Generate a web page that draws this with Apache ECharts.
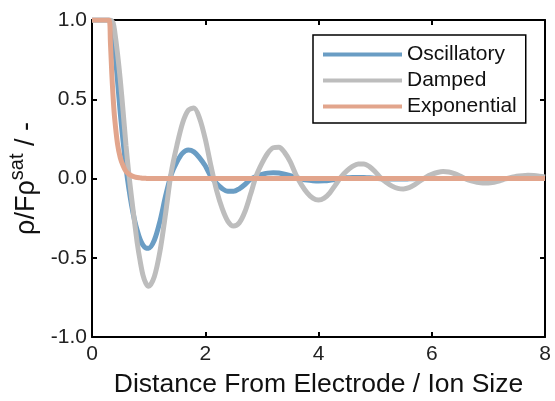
<!DOCTYPE html>
<html>
<head>
<meta charset="utf-8">
<script src="https://cdn.jsdelivr.net/npm/echarts@6/dist/echarts.min.js"></script>
<style>
html,body{margin:0;padding:0;background:#fff;}
#chart{width:555px;height:401px;}
</style>
</head>
<body>
<div id="chart"></div>
<script>
// Shared x positions (distance / ion size)
const xValues = [0, 0.1, 0.2, 0.3, 0.325, 0.35, 0.375, 0.4, 0.45, 0.5, 0.55, 0.6, 0.65, 0.7, 0.75, 0.8, 0.85, 0.9, 0.95, 1.0,
  1.1, 1.2, 1.3, 1.4, 1.5, 1.6, 1.7, 1.8, 1.9, 2.0,
  2.1, 2.2, 2.3, 2.4, 2.5, 2.6, 2.7, 2.8, 2.9, 3.0,
  3.1, 3.2, 3.3, 3.4, 3.5, 3.6, 3.7, 3.8, 3.9, 4.0,
  4.1, 4.2, 4.3, 4.4, 4.5, 4.6, 4.7, 4.8, 4.9, 5.0,
  5.1, 5.2, 5.3, 5.4, 5.5, 5.6, 5.7, 5.8, 5.9, 6.0,
  6.1, 6.2, 6.3, 6.4, 6.5, 6.6, 6.7, 6.8, 6.9, 7.0,
  7.1, 7.2, 7.3, 7.4, 7.5, 7.6, 7.7, 7.8, 7.9, 8.0];

const oscillatory = [1, 1, 1, 1, 0.99, 0.96, 0.9, 0.82, 0.62, 0.41, 0.23, 0.07, -0.06, -0.17, -0.26, -0.33, -0.385, -0.42, -0.438, -0.44,
  -0.39, -0.27, -0.11, 0.025, 0.105, 0.16, 0.18, 0.168, 0.13, 0.08,
  0.013, -0.032, -0.064, -0.081, -0.081, -0.065, -0.038, -0.004, 0.013, 0.026,
  0.034, 0.037, 0.035, 0.028, 0.018, 0.007, -0.003, -0.01, -0.014, -0.016,
  -0.015, -0.011, -0.005, 0.0, 0.004, 0.006, 0.007, 0.006, 0.004, 0.001,
  -0.001, -0.002, -0.003, -0.003, -0.003, -0.002, -0.001, 0, 0, 0,
  0, 0, 0, 0, 0, 0, 0, 0, 0, 0,
  0, 0, 0, 0, 0, 0, 0, 0, 0, 0];

const damped = [1, 1, 1, 1, 1.0, 0.995, 0.98, 0.93, 0.79, 0.62, 0.42, 0.21, 0.03, -0.125, -0.27, -0.41, -0.52, -0.61, -0.66, -0.68,
  -0.62, -0.46, -0.22, 0.04, 0.21, 0.35, 0.43, 0.445, 0.38, 0.25,
  0.08, -0.075, -0.19, -0.27, -0.30, -0.28, -0.21, -0.10, 0.016, 0.095,
  0.158, 0.194, 0.197, 0.165, 0.106, 0.025, -0.04, -0.09, -0.124, -0.136,
  -0.124, -0.09, -0.04, 0.011, 0.048, 0.076, 0.092, 0.092, 0.075, 0.043,
  0.004, -0.025, -0.048, -0.062, -0.066, -0.058, -0.039, -0.014, 0.009, 0.026,
  0.038, 0.044, 0.041, 0.031, 0.015, -0.003, -0.015, -0.024, -0.029, -0.029,
  -0.024, -0.015, -0.003, 0.006, 0.014, 0.018, 0.02, 0.019, 0.015, 0.009];

const exponential = [1, 1, 1, 1, 0.86, 0.66, 0.5, 0.38, 0.22, 0.13, 0.08, 0.045, 0.028, 0.017, 0.01, 0.006, 0.004, 0.002, 0.001, 0,
  0, 0, 0, 0, 0, 0, 0, 0, 0, 0,
  0, 0, 0, 0, 0, 0, 0, 0, 0, 0,
  0, 0, 0, 0, 0, 0, 0, 0, 0, 0,
  0, 0, 0, 0, 0, 0, 0, 0, 0, 0,
  0, 0, 0, 0, 0, 0, 0, 0, 0, 0,
  0, 0, 0, 0, 0, 0, 0, 0, 0, 0,
  0, 0, 0, 0, 0, 0, 0, 0, 0, 0];

const seriesNames = ['Oscillatory', 'Damped', 'Exponential'];
const seriesColors = ['#6a9dc4', '#bdbdbd', '#e2a58c'];
const xTicks = [0, 2, 4, 6, 8];
const yTicks = [-1.0, -0.5, 0.0, 0.5, 1.0];

const FONT = "'Liberation Sans', Arial, Helvetica, sans-serif";
const pair = arr => xValues.map((x, i) => [x, arr[i]]);

const chart = echarts.init(document.getElementById('chart'), null, {renderer: 'canvas'});

const axisCommon = {
  axisLine: {show: true, onZero: false, lineStyle: {color: '#000', width: 2}},
  axisTick: {show: true, inside: true, length: 5, lineStyle: {color: '#000', width: 2}},
  splitLine: {show: false}
};

chart.setOption({
  animation: false,
  backgroundColor: '#fff',
  grid: {left: 92, right: 10, top: 20, bottom: 64, outerBoundsMode: 'none', containLabel: false},
  legend: {
    data: seriesNames,
    orient: 'vertical',
    left: 313,
    top: 35,
    icon: 'rect',
    itemWidth: 79,
    itemHeight: 4,
    itemGap: 5,
    padding: [9, 9, 6, 10],
    borderColor: '#000',
    borderWidth: 1.5,
    backgroundColor: '#fff',
    textStyle: {fontFamily: FONT, fontSize: 21, lineHeight: 21, color: '#111'}
  },
  xAxis: [
    Object.assign({}, axisCommon, {
      type: 'value', min: xTicks[0], max: xTicks[xTicks.length - 1], interval: 2,
      position: 'bottom',
      axisLabel: {fontFamily: FONT, fontSize: 21, color: '#222', margin: 7},
      name: 'Distance From Electrode / Ion Size',
      nameLocation: 'middle',
      nameGap: 34,
      nameTextStyle: {fontFamily: FONT, fontSize: 26.5, color: '#111'}
    }),
    Object.assign({}, axisCommon, {
      type: 'value', min: xTicks[0], max: xTicks[xTicks.length - 1], interval: 2,
      position: 'top',
      axisLabel: {show: false}
    })
  ],
  yAxis: [
    Object.assign({}, axisCommon, {
      type: 'value', min: yTicks[0], max: yTicks[yTicks.length - 1], interval: 0.5,
      position: 'left',
      axisLabel: {fontFamily: FONT, fontSize: 21, color: '#222', margin: 5, formatter: v => v.toFixed(1)},
      name: '{a|ρ/Fρ}{s|sat}{a| / -}',
      nameLocation: 'middle',
      nameGap: 37,
      nameRotate: 90,
      nameTextStyle: {
        rich: {
          a: {fontFamily: FONT, fontSize: 27, lineHeight: 38, color: '#111', verticalAlign: 'middle'},
          s: {fontFamily: FONT, fontSize: 20, lineHeight: 20, color: '#111', verticalAlign: 'top'}
        }
      }
    }),
    Object.assign({}, axisCommon, {
      type: 'value', min: yTicks[0], max: yTicks[yTicks.length - 1], interval: 0.5,
      position: 'right',
      axisLabel: {show: false}
    })
  ],
  series: seriesNames.map((name, k) => ({
    name: name,
    type: 'line',
    xAxisIndex: 0,
    yAxisIndex: 0,
    data: pair([oscillatory, damped, exponential][k]),
    symbol: 'none',
    smooth: 0.3,
    clip: true,
    color: seriesColors[k],
    lineStyle: {width: 5, color: seriesColors[k]}
  }))
});
</script>
</body>
</html>
